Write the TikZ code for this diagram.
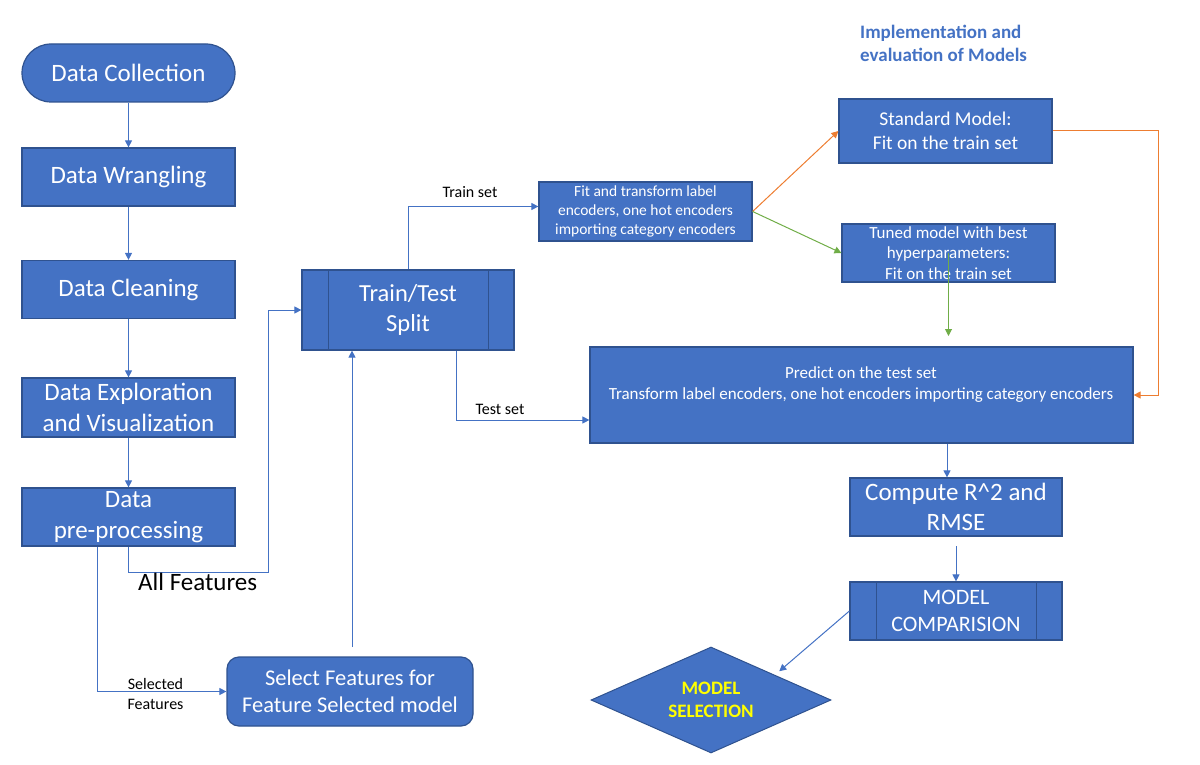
\documentclass[tikz,border=0pt]{standalone}
\usepackage{fontspec}
\setmainfont{Carlito}
\usetikzlibrary{arrows.meta,shapes.geometric,calc}
\definecolor{boxfill}{HTML}{4472C4}
\definecolor{boxedge}{HTML}{2F528F}
\definecolor{conblue}{HTML}{4472C4}
\definecolor{conorange}{HTML}{ED7D31}
\definecolor{congreen}{HTML}{70AD47}
\definecolor{seltext}{HTML}{FFFF00}
\newcommand{\fs}[1]{\fontsize{#1}{1.22\dimexpr #1pt\relax}\selectfont}
\tikzset{
  box/.style={draw=boxedge, fill=boxfill, line width=1.2pt, text=white, align=center, inner sep=0pt, minimum width=213pt},
  arr/.style={draw=conblue, line width=1pt, -{Triangle[length=7pt,width=7pt]}},
  oarr/.style={draw=conorange, line width=1pt, -{Triangle[length=7pt,width=7pt]}},
  garr/.style={draw=congreen, line width=1pt, -{Triangle[length=7pt,width=7pt]}},
  lbl/.style={text=black, inner sep=0pt, align=center},
}
\begin{document}
\begin{tikzpicture}[x=1pt,y=-1pt]
\useasboundingbox (0,0) rectangle (1200,765);

% left column
\node[box, minimum height=58pt, rounded corners=29pt, font=\fs{25}] (dc) at (128.5,73) {Data Collection};
\node[box, minimum height=58pt, font=\fs{25}] (dw) at (128.5,177) {Data Wrangling};
\node[box, minimum height=58pt, font=\fs{25}] (dcl) at (128.5,289.5) {Data Cleaning};
\node[box, minimum height=59pt, font=\fs{25}] (dex) at (128.5,407.5) {Data Exploration\\and Visualization};
\node[box, minimum height=58pt, font=\fs{25}] (dp) at (128.5,517) {Data\\pre-processing};

\draw[arr] (dc) -- (dw);
\draw[arr] (dw) -- (dcl);
\draw[arr] (dcl) -- (dex);
\draw[arr] (dex) -- (dp);

% select features
\node[box, minimum width=246pt, minimum height=69pt, rounded corners=12pt, font=\fs{22.5}] (sel) at (350,691.5) {Select Features for\\Feature Selected model};

% train/test split
\node[box, minimum width=212pt, minimum height=80pt, font=\fs{24.5}] (tts) at (408,310) {Train/Test\\Split};
\draw[boxedge, line width=1.2pt] ([xshift=27pt]tts.north west) -- ([xshift=27pt]tts.south west);
\draw[boxedge, line width=1.2pt] ([xshift=-26pt]tts.north east) -- ([xshift=-26pt]tts.south east);

% all features
\coordinate (af) at (268,572);
\draw[arr] (dp.south) |- (af) |- (tts.west);
\node[lbl, font=\fs{25}, anchor=west] (aflbl) at (138,582) {All Features};

% selected features
\draw[arr] ([xshift=-31.5pt]dp.south) |- (sel.west);
\node[lbl, font=\fs{16}] (sflbl) at (155.5,694) {Selected\\Features};

% select -> tts
\coordinate (s1) at (352,647);
\draw[arr] (s1) -- (s1 |- tts.south);

% fit box
\node[box, minimum width=213pt, minimum height=59pt, font=\fs{15.5}] (fit) at (645.5,211.5) {Fit and transform label\\encoders, one hot encoders\\importing category encoders};
\draw[arr] (tts.north) |- ([yshift=5pt]fit.west);
\node[lbl, font=\fs{16}] (trlbl) at (470,192) {Train set};

% header
\node[lbl, font=\bfseries\fs{19}, text=conblue, align=left, anchor=north west] (hdr) at (860,25) {Implementation and\\evaluation of Models};

% standard & tuned
\node[box, minimum width=213pt, minimum height=64pt, font=\fs{19.5}] (std) at (945.5,131) {Standard Model:\\Fit on the train set};
\node[box, minimum width=213pt, minimum height=58pt, font=\fs{17}] (tun) at (948.5,253) {Tuned model with best\\hyperparameters:\\Fit on the train set};

\draw[oarr] (fit.east) -- (std.west);
\draw[garr] (fit.east) -- (tun.west);

% predict
\node[box, minimum width=543pt, minimum height=96pt] (pred) at (861.5,395) {};
\node[lbl, text=white, font=\fs{17}] (predtxt) at (861,384.5) {Predict on the test set\\Transform label encoders, one hot encoders importing category encoders};

\coordinate (g1) at (948.5,336);
\draw[garr] (tun.center) -- (g1);

\coordinate (o1) at (1158,131);
\draw[oarr] (std.east) -- (o1) |- (pred.east);

\draw[arr] ([xshift=48pt]tts.south) |- ([yshift=-25pt]pred.west);
\node[lbl, font=\fs{16}] (tslbl) at (500,409) {Test set};

% compute
\node[box, minimum width=212pt, minimum height=58pt, font=\fs{25}] (cmp) at (956,507) {Compute R\textasciicircum 2 and\\RMSE};
\draw[arr] ([xshift=85.5pt]pred.south) -- ([xshift=85.5pt]pred.south |- cmp.north);

% model comparision
\node[box, minimum width=212pt, minimum height=58pt, font=\fs{22}] (mc) at (956,611) {MODEL\\COMPARISION};
\draw[boxedge, line width=1.2pt] ([xshift=27pt]mc.north west) -- ([xshift=27pt]mc.south west);
\draw[boxedge, line width=1.2pt] ([xshift=-26pt]mc.north east) -- ([xshift=-26pt]mc.south east);
\coordinate (c1) at (956,546);
\draw[arr] (c1) -- (mc.north);

% model selection
\node[diamond, draw=boxedge, fill=boxfill, line width=1pt, minimum width=240pt, minimum height=106pt, inner sep=0pt, aspect=2.26, text=seltext, align=center, font=\bfseries\fs{19}] (ms) at (711,700) {MODEL\\SELECTION};
\draw[arr] (mc.west) -- ([xshift=8pt,yshift=2pt]ms.north east);
\end{tikzpicture}
\end{document}
